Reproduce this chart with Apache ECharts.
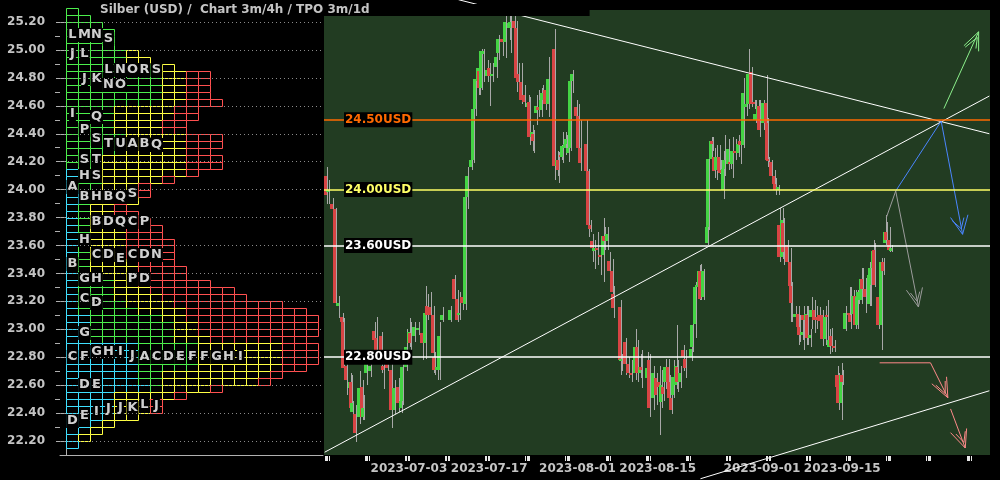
<!DOCTYPE html>
<html><head><meta charset="utf-8">
<script src="https://cdn.jsdelivr.net/npm/echarts@6/dist/echarts.min.js"></script>
<style>html,body{margin:0;padding:0;background:#000;}#c{width:1000px;height:480px;}</style>
</head><body><div id="c"></div>
<script>
// ---------- axis data ----------
const tradingDays = ['06-19','06-20','06-21','06-22','06-23','06-26','06-27','06-28','06-29','06-30',
'07-03','07-04','07-05','07-06','07-07','07-10','07-11','07-12','07-13','07-14',
'07-17','07-18','07-19','07-20','07-21','07-24','07-25','07-26','07-27','07-28',
'07-31','08-01','08-02','08-03','08-04','08-07','08-08','08-09','08-10','08-11',
'08-14','08-15','08-16','08-17','08-18','08-21','08-22','08-23','08-24','08-25',
'08-28','08-29','08-30','08-31','09-01','09-04','09-05','09-06','09-07','09-08',
'09-11','09-12','09-13','09-14','09-15','09-18','09-19','09-20','09-21','09-22',
'09-25','09-26','09-27','09-28','09-29','10-02','10-03','10-04','10-05','10-06',
'10-09','10-10','10-11'];
const sessions = ['00','04','08','12','16','20'];
const xLabelDays = ['07-03','07-17','08-01','08-15','09-01','09-15'];
const weekStarts = ['06-19','06-26','07-03','07-10','07-17','07-24','07-31','08-07','08-14','08-21','08-28','09-04','09-11','09-18','09-25','10-02','10-09'];
const yTickLabels = [22.2,22.4,22.6,22.8,23.0,23.2,23.4,23.6,23.8,24.0,24.2,24.4,24.6,24.8,25.0,25.2];
const yMinorTicks = [22.3,22.5,22.7,22.9,23.1,23.3,23.5,23.7,23.9,24.1,24.3,24.5,24.7,24.9,25.1];

// ---------- candles [time, open, close, low, high] ----------
const candles = [
['06-19 00',24.10,23.96,23.90,24.16],['06-19 08',23.98,24.00,23.90,24.07],['06-19 20',23.90,23.86,23.84,23.94],
['06-20 04',23.86,23.19,23.17,23.87],['06-20 12',23.17,23.19,23.08,23.24],['06-21 00',23.09,23.05,23.00,23.12],
['06-21 04',23.05,22.72,22.70,23.08],['06-21 12',22.74,22.64,22.53,22.77],['06-22 00',22.58,22.62,22.53,22.69],
['06-22 04',22.62,22.44,22.42,22.67],['06-22 08',22.41,22.47,22.37,22.49],['06-22 16',22.39,22.26,22.19,22.46],
['06-23 04',22.37,22.58,22.32,22.70],['06-23 12',22.59,22.37,22.35,22.64],['06-23 16',22.37,22.44,22.35,22.53],
['06-26 00',22.69,22.78,22.60,22.84],['06-26 12',22.70,22.74,22.66,22.82],['06-27 00',22.99,22.92,22.85,23.05],
['06-27 08',22.94,22.85,22.78,23.09],['06-27 20',22.95,22.78,22.69,22.98],['06-28 04',22.74,22.71,22.57,22.81],
['06-28 16',22.76,22.72,22.70,22.81],['06-29 04',22.71,22.42,22.29,22.78],['06-29 12',22.42,22.58,22.39,22.64],
['06-30 00',22.59,22.47,22.41,22.65],['06-30 08',22.44,22.49,22.40,22.57],['06-30 12',22.49,22.73,22.46,22.80],
['07-03 00',22.73,22.87,22.70,23.00],['07-03 08',22.90,22.98,22.87,23.08],['07-03 12',22.97,22.90,22.85,23.05],
['07-04 00',22.95,23.02,22.91,23.05],['07-04 12',23.00,23.01,22.96,23.05],['07-05 00',22.97,22.90,22.78,23.03],
['07-05 08',22.90,23.12,22.79,23.31],['07-05 16',23.17,23.10,23.07,23.25],['07-06 00',23.16,23.10,23.00,23.27],
['07-06 08',23.10,22.83,22.69,23.17],['07-06 12',22.80,22.71,22.67,22.84],['07-06 20',22.71,22.73,22.64,22.78],
['07-07 04',22.71,22.95,22.64,23.05],['07-07 12',23.07,23.10,23.05,23.16],['07-10 12',23.07,23.14,23.05,23.17],
['07-11 00',23.36,23.22,23.21,23.39],['07-11 08',23.22,23.07,23.05,23.28],['07-11 16',23.10,23.12,23.07,23.27],
['07-12 00',23.23,23.19,23.14,23.27],['07-12 08',23.18,23.95,23.14,24.00],['07-12 16',23.95,24.10,23.86,24.16],
['07-13 04',24.16,24.21,24.14,24.28],['07-13 08',24.21,24.58,24.19,24.61],['07-13 16',24.58,24.79,24.53,24.82],
['07-14 00',24.78,24.87,24.68,24.91],['07-14 04',24.85,24.73,24.68,24.93],['07-14 08',24.73,24.99,24.71,25.01],
['07-14 16',24.97,24.99,24.77,25.01],['07-17 04',24.81,24.86,24.77,24.93],['07-17 08',24.87,24.81,24.60,24.91],
['07-17 16',24.81,24.83,24.77,24.91],['07-18 04',24.88,24.95,24.80,25.00],['07-18 12',24.98,25.08,24.93,25.11],
['07-19 00',25.08,25.06,24.96,25.20],['07-19 08',25.06,25.20,24.94,25.24],['07-19 20',25.16,25.19,25.07,25.24],
['07-20 00',25.16,25.20,24.98,25.24],['07-20 12',25.21,25.16,25.14,25.24],['07-20 16',25.16,24.80,24.70,25.21],
['07-21 00',24.83,24.77,24.64,24.91],['07-21 08',24.77,24.64,24.61,24.91],['07-21 16',24.68,24.63,24.59,24.75],
['07-24 04',24.59,24.62,24.46,24.68],['07-24 08',24.63,24.38,24.32,24.66],['07-24 16',24.38,24.41,24.28,24.46],
['07-24 20',24.40,24.35,24.26,24.43],['07-25 04',24.55,24.60,24.46,24.68],['07-25 12',24.59,24.57,24.52,24.71],
['07-25 20',24.57,24.64,24.52,24.73],['07-26 00',24.64,24.69,24.61,24.75],['07-26 08',24.71,24.61,24.57,24.75],
['07-26 16',24.61,24.79,24.52,24.95],['07-27 12',25.01,24.17,24.07,25.15],['07-27 20',24.17,24.21,24.10,24.28],
['07-28 00',24.21,24.14,24.05,24.27],['07-28 08',24.25,24.23,24.21,24.32],['07-28 12',24.23,24.31,24.19,24.41],
['07-28 20',24.30,24.33,24.25,24.41],['07-31 00',24.33,24.36,24.28,24.39],['07-31 04',24.26,24.30,24.20,24.36],
['07-31 12',24.30,24.78,24.28,24.82],['07-31 16',24.78,24.83,24.69,24.86],['08-01 04',24.59,24.53,24.50,24.64],
['08-01 12',24.53,24.30,24.28,24.61],['08-01 16',24.30,24.19,24.13,24.50],['08-02 12',24.33,24.13,24.11,24.50],
['08-02 16',24.13,23.75,23.66,24.15],['08-03 00',23.75,23.72,23.70,23.78],['08-03 04',23.63,23.58,23.48,23.68],
['08-03 12',23.56,23.58,23.43,23.64],['08-03 20',23.58,23.57,23.46,23.70],['08-04 04',23.53,23.52,23.39,23.64],
['08-04 12',23.53,23.67,23.34,23.80],['08-04 16',23.67,23.63,23.57,23.73],['08-07 00',23.63,23.68,23.57,23.73],
['08-07 08',23.49,23.42,23.37,23.55],['08-07 16',23.42,23.27,23.21,23.50],['08-07 20',23.25,23.15,23.08,23.31],
['08-08 16',23.16,22.78,22.67,23.21],['08-08 20',22.77,22.79,22.70,22.82],['08-09 08',22.91,22.75,22.67,22.94],
['08-09 16',22.75,22.69,22.65,22.80],['08-10 00',22.69,22.67,22.62,22.78],['08-10 12',22.69,22.87,22.64,23.00],
['08-10 20',22.87,22.69,22.62,22.92],['08-11 04',22.69,22.73,22.65,22.82],['08-11 08',22.73,22.71,22.58,22.85],
['08-14 00',22.65,22.72,22.60,22.84],['08-14 08',22.78,22.44,22.37,22.82],['08-14 20',22.51,22.69,22.42,22.74],
['08-15 04',22.65,22.53,22.46,22.69],['08-15 12',22.62,22.59,22.24,22.74],['08-15 20',22.48,22.60,22.44,22.71],
['08-16 00',22.59,22.54,22.49,22.64],['08-16 08',22.62,22.73,22.57,22.79],['08-16 16',22.73,22.62,22.58,22.79],
['08-16 20',22.62,22.51,22.46,22.67],['08-17 00',22.51,22.42,22.39,22.57],['08-17 08',22.53,22.66,22.51,22.78],
['08-17 16',22.60,22.74,22.57,23.03],['08-17 20',22.73,22.62,22.55,22.78],['08-18 04',22.62,22.69,22.58,22.74],
['08-18 12',22.85,22.80,22.70,22.89],['08-18 20',22.79,22.72,22.65,22.85],['08-21 12',22.80,22.86,22.77,22.92],
['08-21 16',22.87,23.03,22.84,23.07],['08-22 00',23.04,23.30,22.94,23.34],['08-22 08',23.30,23.32,23.25,23.37],
['08-22 12',23.30,23.42,23.21,23.46],['08-22 16',23.42,23.22,23.21,23.47],['08-23 00',23.23,23.42,23.21,23.43],
['08-23 12',23.62,23.73,23.60,23.80],['08-23 16',23.73,24.22,23.71,24.27],['08-24 00',24.22,24.35,24.15,24.38],
['08-24 04',24.35,24.33,24.28,24.38],['08-24 08',24.23,24.13,24.08,24.30],['08-24 16',24.14,24.23,24.07,24.32],
['08-25 00',24.23,24.13,24.11,24.32],['08-25 04',24.14,24.12,24.08,24.21],['08-25 12',24.00,24.15,23.93,24.28],
['08-25 16',24.15,24.21,24.10,24.39],['08-28 04',24.18,24.29,24.14,24.36],['08-28 08',24.20,24.18,24.15,24.28],
['08-28 16',24.18,24.28,24.08,24.38],['08-29 00',24.28,24.26,24.21,24.36],['08-29 08',24.26,24.33,24.23,24.39],
['08-29 16',24.35,24.32,24.18,24.39],['08-30 00',24.32,24.69,24.30,24.80],['08-30 08',24.59,24.61,24.53,24.68],
['08-30 16',24.61,24.83,24.58,25.01],['08-31 00',24.84,24.61,24.59,24.88],['08-31 08',24.63,24.61,24.58,24.64],
['08-31 12',24.50,24.54,24.48,24.64],['08-31 20',24.50,24.60,24.46,24.64],['09-01 00',24.60,24.43,24.38,24.64],
['09-01 12',24.48,24.62,24.43,24.64],['09-01 20',24.62,24.48,24.44,24.82],['09-04 00',24.48,24.21,24.16,24.51],
['09-04 04',24.22,24.21,24.18,24.23],['09-04 12',24.20,24.10,24.07,24.21],['09-04 20',24.10,24.04,24.00,24.14],
['09-05 00',24.04,24.00,23.96,24.08],['09-05 08',24.00,24.02,23.96,24.03],['09-05 12',23.75,23.52,23.48,23.87],
['09-05 20',23.52,23.78,23.50,23.87],['09-06 00',23.76,23.55,23.46,23.80],['09-06 12',23.60,23.48,23.39,23.64],
['09-06 20',23.48,23.31,23.05,23.58],['09-07 00',23.31,23.19,23.05,23.34],['09-07 12',23.09,23.11,23.07,23.17],
['09-07 20',23.11,23.02,22.89,23.17],['09-08 00',23.02,22.96,22.91,23.10],['09-08 08',22.96,22.98,22.92,23.07],
['09-08 12',23.10,23.07,22.85,23.17],['09-08 20',23.07,23.11,22.89,23.17],['09-11 00',23.10,22.94,22.89,23.17],
['09-11 08',22.94,22.96,22.87,23.00],['09-11 12',23.09,23.14,23.00,23.23],['09-11 20',23.14,23.07,22.97,23.21],
['09-12 04',23.09,23.07,23.00,23.17],['09-12 12',23.10,23.06,22.97,23.16],['09-12 20',23.10,22.93,22.88,23.14],
['09-13 04',22.93,23.09,22.89,23.17],['09-13 12',23.10,23.09,22.89,23.21],['09-13 16',22.87,22.92,22.82,23.00],
['09-14 00',22.95,22.88,22.84,23.01],['09-14 08',22.88,22.87,22.84,22.92],['09-14 16',22.67,22.59,22.55,22.74],
['09-14 20',22.67,22.47,22.42,22.69],['09-15 04',22.47,22.67,22.35,22.76],['09-15 08',22.67,22.62,22.60,22.71],
['09-15 16',23.00,23.12,22.99,23.17],['09-18 04',23.12,23.10,23.07,23.30],['09-18 08',23.10,23.05,23.00,23.30],
['09-18 16',23.11,23.24,23.07,23.28],['09-19 00',23.24,23.03,23.00,23.28],['09-19 04',23.03,23.23,23.00,23.28],
['09-19 08',23.21,23.27,23.18,23.32],['09-19 16',23.21,23.36,23.18,23.44],['09-19 20',23.36,23.29,23.25,23.44],
['09-20 04',23.29,23.23,23.12,23.37],['09-20 16',23.18,23.39,23.17,23.48],['09-20 20',23.32,23.44,23.17,23.53],
['09-21 04',23.44,23.56,23.39,23.64],['09-21 08',23.57,23.32,23.30,23.62],['09-21 20',23.23,23.03,23.00,23.30],
['09-22 04',23.03,23.48,22.85,23.51],['09-22 12',23.48,23.42,23.39,23.51],['09-22 16',23.62,23.70,23.60,23.82],
['09-22 20',23.70,23.64,23.60,23.77],['09-25 04',23.64,23.57,23.55,23.73],['09-25 12',23.56,23.58,23.55,23.60]
];

// ---------- price levels ----------
const levelPrices = [24.50, 24.00, 23.60, 22.80];

// ---------- drawn lines (time, price) ----------
const trendLines = [
  [['07-11 16',25.36],['10-11 20',24.40]],
  [['06-19 00',22.12],['10-11 20',24.67]],
  [['08-22 20',21.93],['10-11 20',22.56]]
];
const greenArrow = [
  [['10-04 04',24.58],['10-10 12',25.13]],
  [['10-06 16',25.03],['10-10 12',25.13],['10-10 12',24.99]],
  [['10-06 20',25.02],['10-10 08',25.09],['10-10 04',25.01]]
];
const blueArrow = [
  [['10-03 20',24.49],['09-26 04',23.99]],
  [['10-03 20',24.49],['10-06 12',23.68]],
  [['10-05 00',23.80],['10-06 12',23.68],['10-09 04',23.82]],
  [['10-05 04',23.78],['10-06 08',23.72],['10-06 16',23.80]]
];
const grayArrow = [
  [['09-25 00',23.80],['09-26 04',23.99],['09-29 00',23.16]],
  [['09-27 12',23.28],['09-29 00',23.16],['09-29 12',23.30]],
  [['09-28 00',23.26],['09-28 20',23.20],['09-29 04',23.27]]
];
const pinkArrow = [
  [['09-22 04',22.76],['10-02 12',22.76],['10-04 16',22.51]],
  [['10-02 16',22.61],['10-04 16',22.51],['10-04 12',22.66]],
  [['10-03 04',22.60],['10-04 08',22.54],['10-04 08',22.63]],
  [['10-05 00',22.43],['10-06 20',22.15]],
  [['10-05 00',22.26],['10-06 20',22.15],['10-09 00',22.29]],
  [['10-05 16',22.25],['10-06 16',22.19],['10-06 20',22.27]]
];

// ---------- TPO profile: rows of 0.05 from 25.30 downward; c=cyan g=green y=yellow r=red ----------
const tpoTop = 25.30, tpoStep = 0.05;
const tpoRows = [
'g','gg','ggg','gggg','gggg','gggg','gggggy','gggggyy','ggggggggy',
'ggggggggyyrr','ggggggggyyrr','ggggggggyyrr','ggggggggyyrr','ggggggggyyrrr',
'ggggyyyyyrr','ggggyyyyyrr','ggggyyyyrr','ggggyyyyrr',
'gggggyyyyyrrr','gggggyyyyyrrr','gggggyyyyyrr','gggyyyyyyyrrr','gggyyyyyyyrrr',
'cggyyyyyyyr','cggyyyyyr','cggyyyr','ccgyyyr','ccgyyy',
'cgyyr','cgyyrr','cgyyyrr','cgyyyrrr','cgyyyrrr','cgyyyrrrr','cgyyyrrrr','cgyyyrrrr',
'cgyyyyrrr','cgyyyyrrrr','cggyyyrrrr','cgggyyrrrrrr','cgggyyyrrrrrrr','cgggyyyyrrrrrrr',
'cggggyyyyrrrrrrrrr','cgggggyyyyrrrrrrrrrr','ccggggggyyrrrrrrrrrrr','ccgggggggyyrrrrrrrrrr',
'ccgggggggyyrrrrrrrrrr','ccgggggggyyyrrrrrrrr',
'ccccccgggggyyyyyyyrrr','ccccccgggggyyyyyyyrrr','ccccccgggggyyyyyyyrrr','ccccccgggggyyyyyyyrr',
'ccccccggyyyyyyyyyr','ccccccggyyyyyyyyr','cccccccgyyyyr','ccccyyyyyr','ccccyyyr','ccccyyyr',
'ccccyy','cccy','ccy','cy','c'
];
const tpoLetters = [
[0,25.11,'L'],[1,25.11,'M'],[2,25.11,'N'],[3,25.08,'S'],[0,24.97,'J'],[1,24.97,'L'],
[1,24.79,'J'],[2,24.79,'K'],[3,24.86,'L'],[4,24.86,'N'],[5,24.86,'O'],[6,24.86,'R'],[7,24.86,'S'],
[3,24.75,'N'],[4,24.75,'O'],[0,24.54,'I'],[2,24.52,'Q'],[1,24.43,'P'],[2,24.36,'S'],
[3,24.33,'T'],[4,24.33,'U'],[5,24.33,'A'],[6,24.33,'B'],[7,24.32,'Q'],[1,24.21,'S'],[2,24.21,'T'],
[0,24.02,'A'],[1,24.10,'H'],[2,24.10,'S'],[1,23.95,'B'],[2,23.95,'H'],[3,23.95,'B'],[4,23.95,'Q'],[5,23.97,'S'],
[2,23.77,'B'],[3,23.77,'D'],[4,23.77,'Q'],[5,23.77,'C'],[6,23.77,'P'],[1,23.64,'H'],
[2,23.53,'C'],[3,23.53,'D'],[4,23.50,'E'],[5,23.53,'C'],[6,23.53,'D'],[7,23.53,'N'],[0,23.47,'B'],
[1,23.36,'G'],[2,23.36,'H'],[5,23.36,'P'],[6,23.36,'D'],[1,23.22,'C'],[2,23.19,'D'],[1,22.97,'G'],
[0,22.80,'C'],[1,22.80,'F'],[2,22.84,'G'],[3,22.84,'H'],[4,22.84,'I'],[5,22.81,'J'],
[6,22.80,'A'],[7,22.80,'C'],[8,22.80,'D'],[9,22.80,'E'],[10,22.80,'F'],[11,22.80,'F'],[12,22.80,'G'],[13,22.80,'H'],[14,22.80,'I'],
[1,22.60,'D'],[2,22.60,'E'],
[0,22.34,'D'],[1,22.38,'E'],[2,22.41,'I'],[3,22.43,'J'],[4,22.44,'J'],[5,22.44,'K'],[6,22.46,'L'],[7,22.45,'J']
];

// ---------- build ----------
const FONT = 'DejaVu Sans';
const categories = [];
tradingDays.forEach(d => sessions.forEach(s => categories.push(d + ' ' + s)));
const catIndex = t => categories.indexOf(t);

const candleData = candles.map(r => [catIndex(r[0]), r[1], r[2], r[3], r[4]]);

const tpoColorMap = {c:'#3fe0ff', g:'#4cee4c', y:'#ffff44', r:'#ff5050'};
const tpoCells = [];
tpoRows.forEach((row, i) => {
  const top = tpoTop - i * tpoStep, bot = top - tpoStep;
  row.split('').forEach((ch, col) => tpoCells.push([col, top, bot, ch]));
});

const annoColors = ['#ffffff', '#8cf08c', '#4a86ff', '#9c9c9c', '#ff8a8a'];
const segs = [];
[[trendLines,0],[greenArrow,1],[blueArrow,2],[grayArrow,3],[pinkArrow,4]].forEach(([polys, ci]) => {
  polys.forEach(poly => {
    for (let k = 0; k < poly.length - 1; k++) {
      const a = catIndex(poly[k][0]), b = catIndex(poly[k+1][0]);
      if (a < 0 || b < 0) continue;
      segs.push([a, poly[k][1], b, poly[k+1][1], ci]);
    }
  });
});

// week-start tick marks (four sessions each Monday)
const tickIdx = [];
categories.forEach((v, i) => {
  if (weekStarts.includes(v.slice(0,5)) && ['00','04','08','12'].includes(v.slice(6))) tickIdx.push(i);
});

const levelStyles = [
  {line:'#ff6a00', text:'#ff6a00'},
  {line:'#ffff66', text:'#ffff66'},
  {line:'#ffffff', text:'#ffffff'},
  {line:'#ffffff', text:'#ffffff'}
];

const yMin = 22.1, yMax = 25.286;
const labelStyle = {color:'#c4c4c4', fontFamily:FONT, fontWeight:'bold', fontSize:12};

const chart = echarts.init(document.getElementById('c'), null, {renderer:'canvas'});
chart.setOption({
  backgroundColor:'#000',
  animation:false,
  title:{
    text:'Silber (USD) /  Chart 3m/4h / TPO 3m/1d', left:95, top:4, padding:[0,220,0,5],
    backgroundColor:'#000',
    textStyle:{color:'#c4c4c4', fontFamily:FONT, fontWeight:'bold', fontSize:12, lineHeight:12}
  },
  grid:[
    {left:60, top:10, width:263, height:445, show:false},
    {left:324, top:10, width:666, height:445, show:true, backgroundColor:'#223c22', borderWidth:0}
  ],
  xAxis:[
    {gridIndex:0, type:'value', min:-0.5, max:21.42,
     axisLine:{show:true, lineStyle:{color:'#b0b0b0'}}, axisTick:{show:false}, axisLabel:{show:false}, splitLine:{show:false}},
    {gridIndex:1, type:'category', data:categories, boundaryGap:true,
     axisLine:{show:false},
     axisTick:{show:false},
     axisLabel:Object.assign({show:true, margin:8,
       interval:(i, v) => String(v).slice(6) === '12' && xLabelDays.includes(String(v).slice(0,5)),
       formatter:v => '2023-' + String(v).slice(0,5)}, labelStyle),
     splitLine:{show:false}}
  ],
  yAxis:[
    {gridIndex:0, type:'value', min:yMin, max:yMax, position:'left',
     axisLine:{show:true, lineStyle:{color:'#b0b0b0'}},
     axisTick:{show:true, length:10, customValues:yTickLabels, lineStyle:{color:'#b0b0b0'}},
     axisLabel:Object.assign({show:true, margin:15, customValues:yTickLabels, formatter:v => v.toFixed(2)}, labelStyle),
     splitLine:{show:false}},
    {gridIndex:0, type:'value', min:yMin, max:yMax, position:'left',
     axisLine:{show:false},
     axisTick:{show:true, length:5, customValues:yMinorTicks, lineStyle:{color:'#b0b0b0'}},
     axisLabel:{show:false}, splitLine:{show:false}},
    {gridIndex:1, type:'value', min:yMin, max:yMax, show:false, splitLine:{show:false}}
  ],
  series:[
    {name:'grid', type:'line', xAxisIndex:0, yAxisIndex:0, data:[], z:1,
     markLine:{silent:true, symbol:'none', label:{show:false},
       lineStyle:{color:'#8a8a8a', type:[1,3], width:1},
       data:yTickLabels.map(v => ({yAxis:v}))}},
    {name:'tpo', type:'custom', xAxisIndex:0, yAxisIndex:0, z:2, silent:true,
     data:tpoCells.map(c => [c[0], c[1], c[2], 0]),
     renderItem:(params, api) => {
       const cell = tpoCells[params.dataIndex];
       const p1 = api.coord([cell[0], cell[1]]), p2 = api.coord([cell[0] + 1, cell[2]]);
       const x1 = Math.round(p1[0]), x2 = Math.round(p2[0]);
       const y1 = Math.round(p1[1]), y2 = Math.round(p2[1]);
       return {type:'rect', shape:{x:x1 + 0.5, y:y1 + 0.5, width:x2 - x1, height:y2 - y1},
               style:{fill:'#000', stroke:tpoColorMap[cell[3]], lineWidth:1}};
     }},
    {name:'letters', type:'custom', xAxisIndex:0, yAxisIndex:0, z:3, silent:true,
     data:tpoLetters.map(l => [l[0], l[1]]),
     renderItem:(params, api) => {
       const l = tpoLetters[params.dataIndex];
       const p = api.coord([l[0] + 0.5, l[1]]);
       return {type:'text', x:Math.round(p[0]) + 0.5, y:Math.round(p[1]),
         style:{text:l[2], fill:'#d0d0d0', font:'bold 13px "DejaVu Sans"', align:'center', verticalAlign:'middle',
                backgroundColor:'#000', padding:[1,1,0,1]}};
     }},
    {name:'weekTicks', type:'custom', xAxisIndex:1, yAxisIndex:2, z:6, silent:true, clip:false,
     data:tickIdx.map(i => [i, 22.2]),
     renderItem:(params, api) => {
       const p = api.coord([api.value(0), yMin]);
       const x = Math.round(p[0]) + 0.5;
       const y = Math.round(p[1]);
       return {type:'line', shape:{x1:x, y1:y + 1, x2:x, y2:y + 6}, style:{stroke:'#e8e8e8', lineWidth:1}};
     }},
    {name:'candles', type:'custom', xAxisIndex:1, yAxisIndex:2, z:3, silent:true,
     data:candleData, encode:{x:0, y:[1,2,3,4]},
     renderItem:(params, api) => {
       const i = api.value(0), o = api.value(1), c = api.value(2), lo = api.value(3), hi = api.value(4);
       const po = api.coord([i, o]), pc = api.coord([i, c]), pl = api.coord([i, lo]), ph = api.coord([i, hi]);
       const cx = Math.round(po[0]);
       const top = Math.round(Math.min(po[1], pc[1])), bot = Math.round(Math.max(po[1], pc[1]));
       return {type:'group', children:[
         {type:'line', shape:{x1:cx + 2.5, y1:Math.round(ph[1]), x2:cx + 2.5, y2:Math.round(pl[1])},
          style:{stroke:'#a8a8a8', lineWidth:1}},
         {type:'rect', shape:{x:cx - 1, y:top, width:3, height:Math.max(2, bot - top)},
          style:{fill: c >= o ? '#44d444' : '#d84444'}}
       ]};
     }},
    {name:'annotations', type:'custom', xAxisIndex:1, yAxisIndex:2, z:4, silent:true, clip:false,
     data:segs, encode:{x:[0,2], y:[1,3]},
     renderItem:(params, api) => {
       const p1 = api.coord([api.value(0), api.value(1)]), p2 = api.coord([api.value(2), api.value(3)]);
       return {type:'line', shape:{x1:p1[0], y1:p1[1], x2:p2[0], y2:p2[1]},
               style:{stroke:annoColors[api.value(4)], lineWidth:1}};
     }},
    {name:'levels', type:'line', xAxisIndex:1, yAxisIndex:2, data:[], z:5,
     markLine:{silent:true, symbol:'none',
       data:levelPrices.map((p, i) => ({yAxis:p,
         lineStyle:{color:levelStyles[i].line, width:1.5, type:'solid'},
         label:{show:true, position:'insideStart', distance:20, formatter:p.toFixed(2) + 'USD',
           color:levelStyles[i].text, backgroundColor:'#000', padding:[2,1,1,1],
           fontFamily:FONT, fontWeight:'bold', fontSize:12}}))}}
  ]
});
</script></body></html>
